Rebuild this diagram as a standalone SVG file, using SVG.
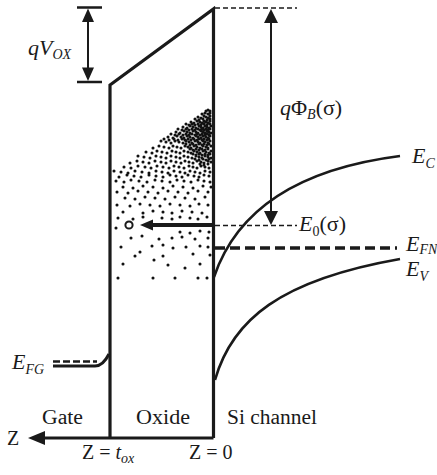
<svg xmlns="http://www.w3.org/2000/svg" width="437" height="475" viewBox="0 0 437 475">
<defs>
<style>
.ln{fill:none;stroke:#1a1a1a;stroke-width:3.2;stroke-linejoin:miter}
.thin{fill:none;stroke:#1a1a1a;stroke-width:2}
.dash{fill:none;stroke:#1a1a1a;stroke-width:1.6;stroke-dasharray:5 3}
.curve{fill:none;stroke:#1a1a1a;stroke-width:2.6}
.dots{fill:none;stroke:#111;stroke-width:3.1;stroke-linecap:round}
text{font-family:"Liberation Serif","Times New Roman",serif;fill:#1a1a1a}
.it{font-style:italic}
.lab{font-size:20px}
.sym{font-size:22px}
.sub{font-size:14px}
</style>
</defs>
<rect width="437" height="475" fill="#fff"/>

<g id="oxide-dots">
<path class="dots" d="M116 181h0M124 182h0M131 180h0M139 181h0M147 182h0M155 180h0M162 181h0M170 182h0M177 180h0M184 181h0M191 182h0M198 180h0M204 181h0M210 182h0
M119 177h0M127 175h0M134 176h0M141 177h0M149 175h0M156 176h0M163 177h0M170 175h0M176 176h0M182 177h0M188 175h0M194 176h0M199 177h0M204 175h0M209 176h0
M114 171h0M121 172h0M128 173h0M135 171h0M142 172h0M149 173h0M156 171h0M162 172h0M168 173h0M174 171h0M180 172h0M185 173h0M190 171h0M195 172h0M200 173h0M205 171h0M210 172h0
M124 167h0M131 168h0M138 166h0M145 167h0M151 168h0M157 166h0M163 167h0M169 168h0M174 166h0M179 167h0M184 168h0M189 166h0M193 167h0M197 168h0M201 166h0M205 167h0M209 168h0
M200 164h0M204 165h0M208 164h0
M130 163h0M137 161h0M143 162h0M149 163h0M155 161h0M161 162h0M166 163h0M171 161h0M176 162h0M181 163h0M185 161h0M189 162h0M193 163h0M197 161h0M201 162h0M204 163h0M208 161h0M211 162h0
M195 159h0M199 160h0M203 159h0M206 160h0M209 159h0
M138 156h0M144 157h0M150 158h0M156 156h0M161 157h0M166 158h0M171 156h0M176 157h0M180 158h0M184 156h0M188 157h0M192 158h0M196 156h0M199 157h0M202 158h0M205 156h0M208 157h0M211 158h0
M193 154h0M196 155h0M199 154h0M202 155h0M205 154h0M208 155h0M210 154h0
M146 152h0M152 153h0M157 151h0M162 152h0M167 153h0M172 151h0M176 152h0M180 153h0M184 151h0M188 152h0M191 153h0M194 151h0M197 152h0M200 153h0M203 151h0M206 152h0M209 153h0M211 151h0
M190 149h0M193 150h0M196 149h0M199 150h0M202 149h0M205 150h0M208 149h0
M153 148h0M159 146h0M164 147h0M169 148h0M173 146h0M177 147h0M181 148h0M185 146h0M188 147h0M191 148h0M194 146h0M197 147h0M200 148h0M203 146h0M206 147h0M208 148h0M211 146h0
M186 144h0M190 145h0M193 144h0M196 145h0M199 144h0M202 145h0M204 144h0M207 145h0M209 144h0
M161 141h0M166 142h0M171 143h0M175 141h0M179 142h0M183 143h0M186 141h0M189 142h0M192 143h0M195 141h0M198 142h0M200 143h0M203 141h0M205 142h0M208 143h0M210 141h0
M164 139h0M169 140h0M174 139h0M178 140h0M182 139h0M185 140h0M188 139h0M191 140h0M194 139h0M197 140h0M199 139h0M202 140h0M204 139h0M207 140h0M209 139h0
M168 137h0M173 138h0M177 136h0M181 137h0M184 138h0M187 136h0M190 137h0M193 138h0M196 136h0M198 137h0M201 138h0M203 136h0M206 137h0M208 138h0M210 136h0
M171 134h0M175 135h0M179 134h0M183 135h0M186 134h0M189 135h0M192 134h0M195 135h0M197 134h0M200 135h0M202 134h0M205 135h0M207 134h0M209 135h0
M176 132h0M180 133h0M184 131h0M187 132h0M190 133h0M193 131h0M196 132h0M198 133h0M201 131h0M203 132h0M205 133h0M207 131h0M209 132h0M211 133h0
M178 129h0M182 130h0M186 129h0M189 130h0M192 129h0M195 130h0M198 129h0M200 130h0M202 129h0M204 130h0M206 129h0M208 130h0M210 129h0
M183 127h0M187 128h0M190 126h0M193 127h0M196 128h0M199 126h0M201 127h0M203 128h0M205 126h0M207 127h0M209 128h0M211 126h0
M186 124h0M189 125h0M192 124h0M195 125h0M198 124h0M201 125h0M204 124h0M207 125h0M210 124h0
M191 122h0M194 123h0M197 121h0M200 122h0M202 123h0M204 121h0M206 122h0M208 123h0M210 121h0
M195 119h0M199 120h0M203 119h0M207 120h0M210 119h0
M198 117h0M201 118h0M204 116h0M206 117h0M208 118h0M210 116h0
M202 114h0M205 113h0M208 114h0M210 113h0
M206 111h0M208 110h0M210 111h0
M123 187h0M133 188h0M143 186h0M153 187h0M163 188h0M173 186h0M183 187h0M193 188h0M203 186h0M211 187h0
M117 192h0M128 193h0M138 191h0M148 192h0M158 193h0M168 191h0M178 192h0M188 193h0M198 191h0M208 192h0
M125 198h0M135 199h0M145 197h0M155 198h0M165 199h0M175 197h0M185 198h0M195 199h0M205 197h0
M117 205h0M130 206h0M140 204h0M150 205h0M160 206h0M170 204h0M180 205h0M190 206h0M199 204h0M208 205h0
M123 212h0M143 213h0M153 211h0M163 212h0M172 213h0M182 211h0M192 212h0M202 213h0
M118 218h0M133 219h0M143 217h0M162 218h0M172 219h0M180 217h0M190 218h0M198 219h0M207 217h0
M116 228h0
M180 232h0M190 233h0M200 231h0M209 232h0
M131 238h0M142 236h0M159 239h0M172 238h0M182 237h0M195 239h0M208 238h0
M121 247h0M152 246h0M163 245h0M173 248h0M186 247h0M200 246h0M208 247h0
M135 256h0M154 260h0M163 256h0M193 254h0M210 255h0
M123 264h0M140 252h0M168 265h0M185 268h0M200 264h0
M118 278h0M153 278h0M175 278h0M198 278h0M207 278h0"/>
</g>

<g id="band-frame">
<path class="ln" d="M110 438V85L213.5 9V438"/>
</g>

<g id="axis">
<path class="ln" d="M213.5 438H40"/>
<path d="M28 438L45 431V445Z" fill="#1a1a1a"/>
<text class="lab" x="7" y="445">Z</text>
</g>

<g id="connectors">
<path class="dash" d="M215 8H297"/>
<path class="dash" d="M215 225.5H297"/>
<path d="M215 248H397" fill="none" stroke="#1a1a1a" stroke-width="3.6" stroke-dasharray="10 5"/>
<path d="M77 7.5H102M77 82H102" stroke="#1a1a1a" stroke-width="2.4"/>
<path class="thin" d="M88 20V70"/>
<path d="M88 8.5L82 22H94Z M88 81L82 67.5H94Z" fill="#1a1a1a"/>
<path class="thin" d="M271 20V212"/>
<path d="M271 9L264 23H278Z M271 225L264 211H278Z" fill="#1a1a1a"/>
<path d="M212 225H150" stroke="#1a1a1a" stroke-width="4" fill="none"/>
<path d="M140 225L153 219.5V230.5Z" fill="#1a1a1a"/>
</g>

<g id="electron">
<circle cx="129" cy="225" r="3.6" fill="#fff" stroke="#1a1a1a" stroke-width="2"/>
</g>

<g id="bands">
<path class="curve" d="M214 277C235 215 290 170 400 156"/>
<path class="curve" d="M215 380C232 320 280 280 400 259"/>
<path d="M53 366H95Q103 366 109 354" fill="none" stroke="#1a1a1a" stroke-width="3"/>
<path d="M53 361.5H97" fill="none" stroke="#1a1a1a" stroke-width="2.6" stroke-dasharray="7 3"/>
</g>

<g id="labels">
<text x="28" y="55" class="sym it">qV<tspan class="sub" dy="4">OX</tspan></text>
<text x="280" y="115" class="sym"><tspan class="it">q</tspan>Φ<tspan class="sub it" dy="4">B</tspan><tspan dy="-4">(σ)</tspan></text>
<text x="412" y="163" class="sym"><tspan class="it">E</tspan><tspan class="sub it" dy="5">C</tspan></text>
<text x="299" y="231" class="sym"><tspan class="it">E</tspan><tspan class="sub" dy="5">0</tspan><tspan dy="-5">(σ)</tspan></text>
<text x="406" y="251" class="sym"><tspan class="it">E</tspan><tspan class="sub it" dy="3">FN</tspan></text>
<text x="406" y="276" class="sym"><tspan class="it">E</tspan><tspan class="sub it" dy="5">V</tspan></text>
<text x="12" y="369" class="sym"><tspan class="it">E</tspan><tspan class="sub it" dy="5">FG</tspan></text>
<text x="42" y="424" class="lab" textLength="41" lengthAdjust="spacingAndGlyphs">Gate</text>
<text x="136" y="424" class="lab" textLength="54" lengthAdjust="spacingAndGlyphs">Oxide</text>
<text x="227" y="424" class="lab" textLength="90" lengthAdjust="spacingAndGlyphs">Si channel</text>
<text x="82" y="459" class="lab">Z = <tspan class="it">t</tspan><tspan class="sub it" dy="4">ox</tspan></text>
<text x="189" y="459" class="lab">Z = 0</text>
</g>
</svg>
